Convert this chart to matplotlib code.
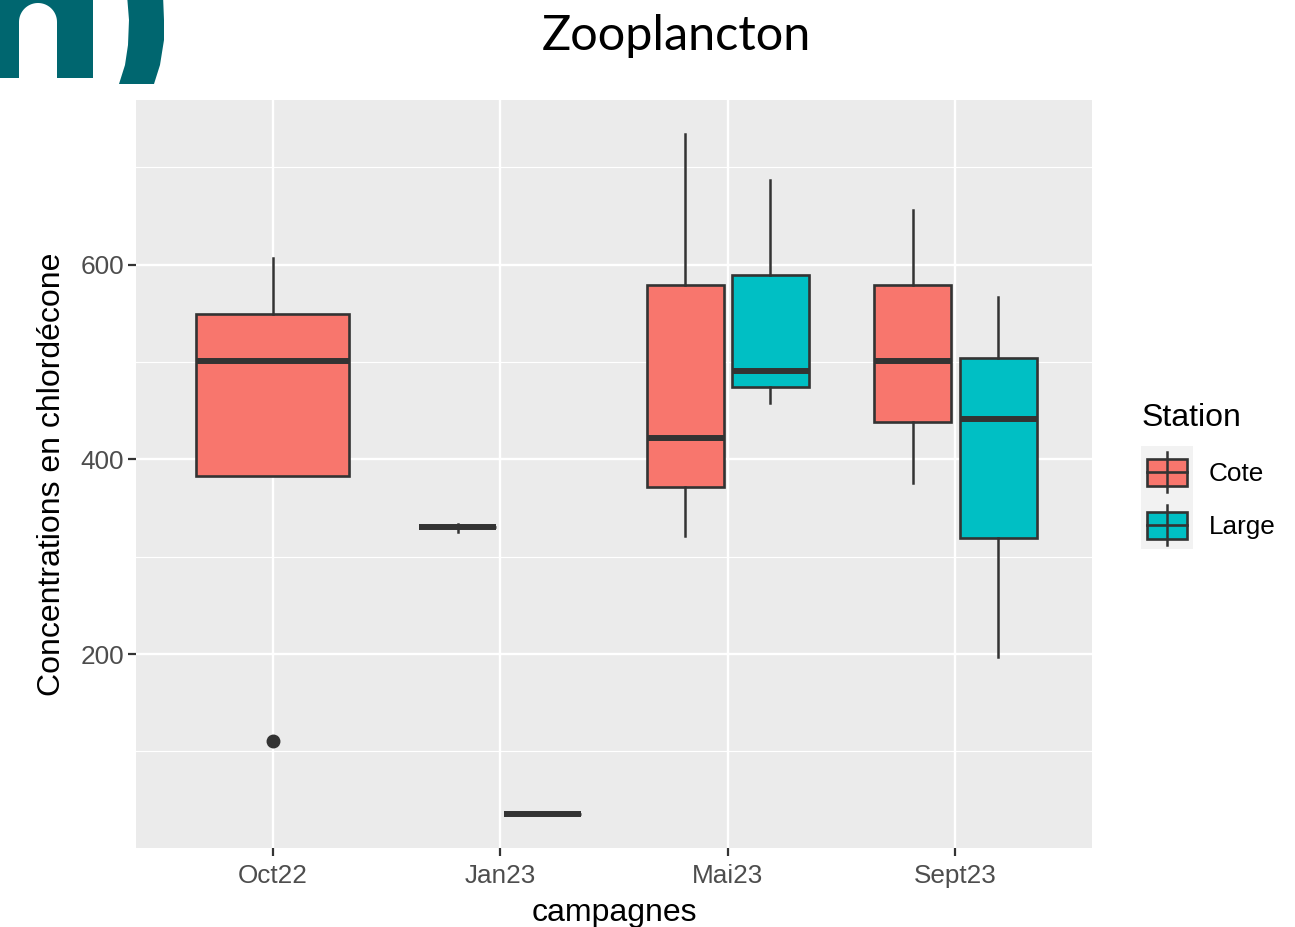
import matplotlib
matplotlib.use("Agg")
import matplotlib.pyplot as plt
import numpy as np
from matplotlib.patches import Rectangle, Polygon

# Data (box statistics per campaign)
campagnes = ["Oct22", "Jan23", "Mai23", "Sept23"]
stations = ["Cote", "Large"]

cote_whislo = [382.5, 325, 321, 376]
cote_q1 = [382.5, 330, 371.5, 438]
cote_med = [501, 330, 422, 500.5]
cote_q3 = [549, 330, 578.7, 578.7]
cote_whishi = [607, 334, 734, 656]
cote_fliers = [[111], [], [], []]

large_whislo = [None, 36, 458, 197]
large_q1 = [None, 36, 474.5, 319]
large_med = [None, 36, 491, 441]
large_q3 = [None, 36, 589.4, 504]
large_whishi = [None, 36, 687, 566.3]
large_fliers = [[], [], [], []]

colors = {"Cote": "#F8766D", "Large": "#00BFC4"}
dark = "#333333"

W, H = 1295, 927
fig = plt.figure(figsize=(W / 100, H / 100), dpi=100)
plt.rcParams['font.family'] = ['Liberation Sans', 'DejaVu Sans']

# logo fragment in the top left corner
bg = fig.add_axes([0, 0, 1, 1], zorder=0)
bg.set_xlim(0, W)
bg.set_ylim(H, 0)
bg.axis("off")
teal = "#00666f"
t = np.linspace(0, np.pi, 40)
arc = np.column_stack([38 + 19 * np.cos(t), 22 - 19 * np.sin(t)])
n_pts = np.vstack([[[0, -10], [93, -10], [93, 78], [57, 78]], arc, [[19, 78], [0, 78]]])
bg.add_patch(Polygon(n_pts, closed=True, color=teal, lw=0))
paren = [(127, -5), (129, 20), (128, 45), (125, 65), (119, 84),
         (154, 84), (160, 65), (164, 40), (164, 20), (163, -5)]
bg.add_patch(Polygon(paren, closed=True, color=teal, lw=0))

# main panel
ax = fig.add_axes([136 / W, 1 - 848 / H, (1092 - 136) / W, (848 - 100) / H], zorder=1)
ax.set_facecolor("#EBEBEB")

box_w = 0.75 * 0.9
half = 0.75 / 2
series = {
    "Cote": (cote_whislo, cote_q1, cote_med, cote_q3, cote_whishi, cote_fliers),
    "Large": (large_whislo, large_q1, large_med, large_q3, large_whishi, large_fliers),
}
for i, camp in enumerate(campagnes):
    present = [s for s in stations if series[s][0][i] is not None]
    n = len(present)
    for j, s in enumerate(present):
        wl, q1, md, q3, wh, fl = (a[i] for a in series[s])
        if n == 1:
            pos, w = i + 1, box_w
        else:
            pos = i + 1 - half / 2 + j * half
            w = half * 0.9
        st = [{"whislo": wl, "q1": q1, "med": md, "q3": q3, "whishi": wh, "fliers": fl}]
        ax.bxp(st, positions=[pos], widths=w, patch_artist=True, showcaps=False,
               boxprops=dict(facecolor=colors[s], edgecolor=dark, linewidth=1.9),
               medianprops=dict(color=dark, linewidth=4.3, solid_capstyle="butt"),
               whiskerprops=dict(color=dark, linewidth=1.8),
               flierprops=dict(marker="o", markerfacecolor=dark, markeredgecolor=dark,
                               markersize=9),
               manage_ticks=False, zorder=3)

ax.set_xlim(0.4, 4.6)
ax.set_ylim(0.9, 768.9)
ax.set_xticks(range(1, len(campagnes) + 1))
ax.set_xticklabels(campagnes)
ax.set_yticks([200, 400, 600])
ax.set_yticks([100, 300, 500, 700], minor=True)
ax.grid(which="major", color="white", linewidth=1.7, zorder=0)
ax.grid(which="minor", axis="y", color="white", linewidth=0.85, zorder=0)
ax.set_axisbelow(True)
for sp in ax.spines.values():
    sp.set_visible(False)
ax.tick_params(which="major", length=5.5, width=1.6, color=dark, labelsize=18.8,
               labelcolor="#4D4D4D", pad=3)
ax.tick_params(axis="x", which="major", pad=6)
ax.tick_params(which="minor", length=0)
ax.set_xlabel("campagnes", fontsize=23, labelpad=7)
ax.set_ylabel("Concentrations en chlordécone", fontsize=23, labelpad=10)

fig.text(676 / W, 1 - 36 / H, "Zooplancton", fontsize=35, family=["Lato", "DejaVu Sans"],
         ha="center", va="center")

# legend drawn in pixel coordinates
bg2 = fig.add_axes([0, 0, 1, 1], zorder=2)
bg2.set_xlim(0, W)
bg2.set_ylim(H, 0)
bg2.axis("off")
bg2.add_patch(Rectangle((1141, 446), 52, 103, facecolor="#F2F2F2", lw=0))
bg2.text(1142, 418, "Station", fontsize=23, ha="left", va="center")
for k, (s, cy) in enumerate(zip(stations, [472, 525])):
    bg2.plot([1167, 1167], [cy - 20, cy + 20], color=dark, lw=1.8)
    bg2.add_patch(Rectangle((1147, cy - 13.5), 40, 27, facecolor=colors[s],
                            edgecolor=dark, lw=1.9))
    bg2.plot([1147, 1187], [cy, cy], color=dark, lw=1.9)
    bg2.text(1209, cy + 2, s, fontsize=18.8, ha="left", va="center")

fig.savefig("out.png", dpi=100)
